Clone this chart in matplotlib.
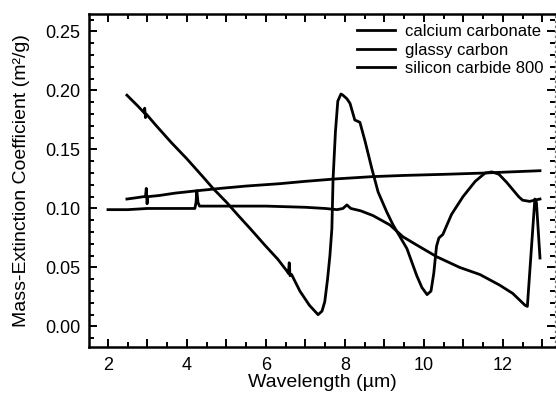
import matplotlib
matplotlib.use('Agg')
import matplotlib.pyplot as plt
from matplotlib.ticker import MultipleLocator, FuncFormatter

plt.rcParams['font.family'] = ['Liberation Sans', 'DejaVu Sans']

# calcium carbonate: oscillating curve
caco3_x = [2.48, 2.6, 2.75, 2.92, 2.93, 2.95, 2.97, 3.2, 3.6, 4.0, 4.4, 4.66, 5.01, 5.3,
           5.6, 5.97, 6.3, 6.53, 6.57, 6.59, 6.61, 6.65, 6.86, 7.1, 7.32, 7.42, 7.49,
           7.56, 7.62, 7.67, 7.70, 7.76, 7.82, 7.9, 7.95, 8.05, 8.13, 8.25, 8.38, 8.51,
           8.68, 8.84, 9.06, 9.22, 9.57, 9.82, 9.95, 10.08, 10.18, 10.25, 10.32, 10.38,
           10.48, 10.7, 10.99, 11.3, 11.55, 11.72, 11.9, 12.1, 12.25, 12.4, 12.5, 12.68,
           12.8, 12.94]
caco3_y = [0.196, 0.192, 0.187, 0.181, 0.185, 0.177, 0.180, 0.171, 0.156, 0.142, 0.127,
           0.117, 0.105, 0.094, 0.083, 0.069, 0.057, 0.047, 0.045, 0.054, 0.043, 0.044,
           0.030, 0.018, 0.010, 0.013, 0.021, 0.040, 0.060, 0.083, 0.125, 0.165, 0.191,
           0.197, 0.196, 0.193, 0.189, 0.175, 0.173, 0.157, 0.134, 0.114, 0.097, 0.086,
           0.066, 0.043, 0.033, 0.027, 0.030, 0.045, 0.068, 0.075, 0.078, 0.095, 0.110,
           0.123, 0.130, 0.131, 0.129, 0.122, 0.116, 0.110, 0.107, 0.106, 0.107, 0.108]

# glassy carbon: slowly rising
glassy_x = [2.48, 2.7, 2.9, 2.95, 2.97, 2.99, 3.01, 3.3, 3.7, 4.25, 4.84, 5.5, 6.35, 7.0,
            7.75, 8.71, 9.5, 10.58, 11.5, 12.2, 12.94]
glassy_y = [0.108, 0.109, 0.110, 0.110, 0.117, 0.104, 0.110, 0.111, 0.113, 0.115, 0.117,
            0.119, 0.121, 0.123, 0.125, 0.127, 0.128, 0.129, 0.130, 0.131, 0.132]

# silicon carbide 800: flat then falling, sharp feature near 12.7
sic_x = [2.0, 2.5, 3.0, 3.5, 4.0, 4.2, 4.23, 4.25, 4.28, 4.32, 5.0, 6.0, 7.0, 7.5, 7.8,
         7.95, 8.05, 8.15, 8.4, 8.71, 9.14, 9.47, 9.82, 10.33, 10.91, 11.42, 11.92, 12.25,
         12.56, 12.62, 12.81, 12.85, 12.94]
sic_y = [0.099, 0.099, 0.100, 0.100, 0.100, 0.100, 0.105, 0.115, 0.105, 0.102, 0.102,
         0.102, 0.101, 0.100, 0.099, 0.100, 0.103, 0.100, 0.098, 0.094, 0.086, 0.076,
         0.069, 0.059, 0.050, 0.044, 0.035, 0.028, 0.018, 0.017, 0.108, 0.105, 0.058]

fig = plt.figure(figsize=(5.56, 4.0), dpi=100)
ax = fig.add_axes([0.1601, 0.1325, 0.8381, 0.8325])

lw = 2.0
ax.plot(caco3_x, caco3_y, color='black', lw=lw, label='calcium carbonate')
ax.plot(glassy_x, glassy_y, color='black', lw=lw, label='glassy carbon')
ax.plot(sic_x, sic_y, color='black', lw=lw, label='silicon carbide 800')

ax.set_xlim(1.52, 13.32)
ax.set_ylim(-0.0174, 0.2648)

ax.xaxis.set_major_locator(MultipleLocator(1))
ax.xaxis.set_minor_locator(MultipleLocator(0.5))
ax.xaxis.set_major_formatter(FuncFormatter(lambda v, p: f"{int(round(v))}" if round(v) % 2 == 0 else ""))
ax.yaxis.set_major_locator(MultipleLocator(0.05))
ax.yaxis.set_minor_locator(MultipleLocator(0.01))
ax.yaxis.set_major_formatter(FuncFormatter(lambda v, p: f"{v:.2f}"))

ax.tick_params(which='both', direction='in', top=True, right=True, labelsize=13,
               width=1.4)
ax.tick_params(which='major', length=6)
ax.tick_params(which='minor', length=3.5)
ax.tick_params(axis='x', pad=7)
ax.tick_params(axis='y', pad=6)

for s in ['left', 'bottom', 'top']:
    ax.spines[s].set_linewidth(1.8)
ax.spines['right'].set_linewidth(0.9)
ax.spines['right'].set_linestyle((0, (1, 3)))
ax.spines['right'].set_color('#777777')
for t in ax.yaxis.get_major_ticks() + ax.yaxis.get_minor_ticks():
    t.tick2line.set_color('#777777')

ax.set_xlabel('Wavelength (µm)', fontsize=14, labelpad=0)
ax.set_ylabel('Mass-Extinction Coefficient (m²/g)', fontsize=14, labelpad=11)

ax.legend(loc='upper left', bbox_to_anchor=(357 / 556, 1 - 24 / 400),
          bbox_transform=fig.transFigure, frameon=False, fontsize=12,
          handlelength=2.3, handletextpad=0.6, borderpad=0, borderaxespad=0,
          labelspacing=0.22)

fig.savefig('out.png', dpi=100)
